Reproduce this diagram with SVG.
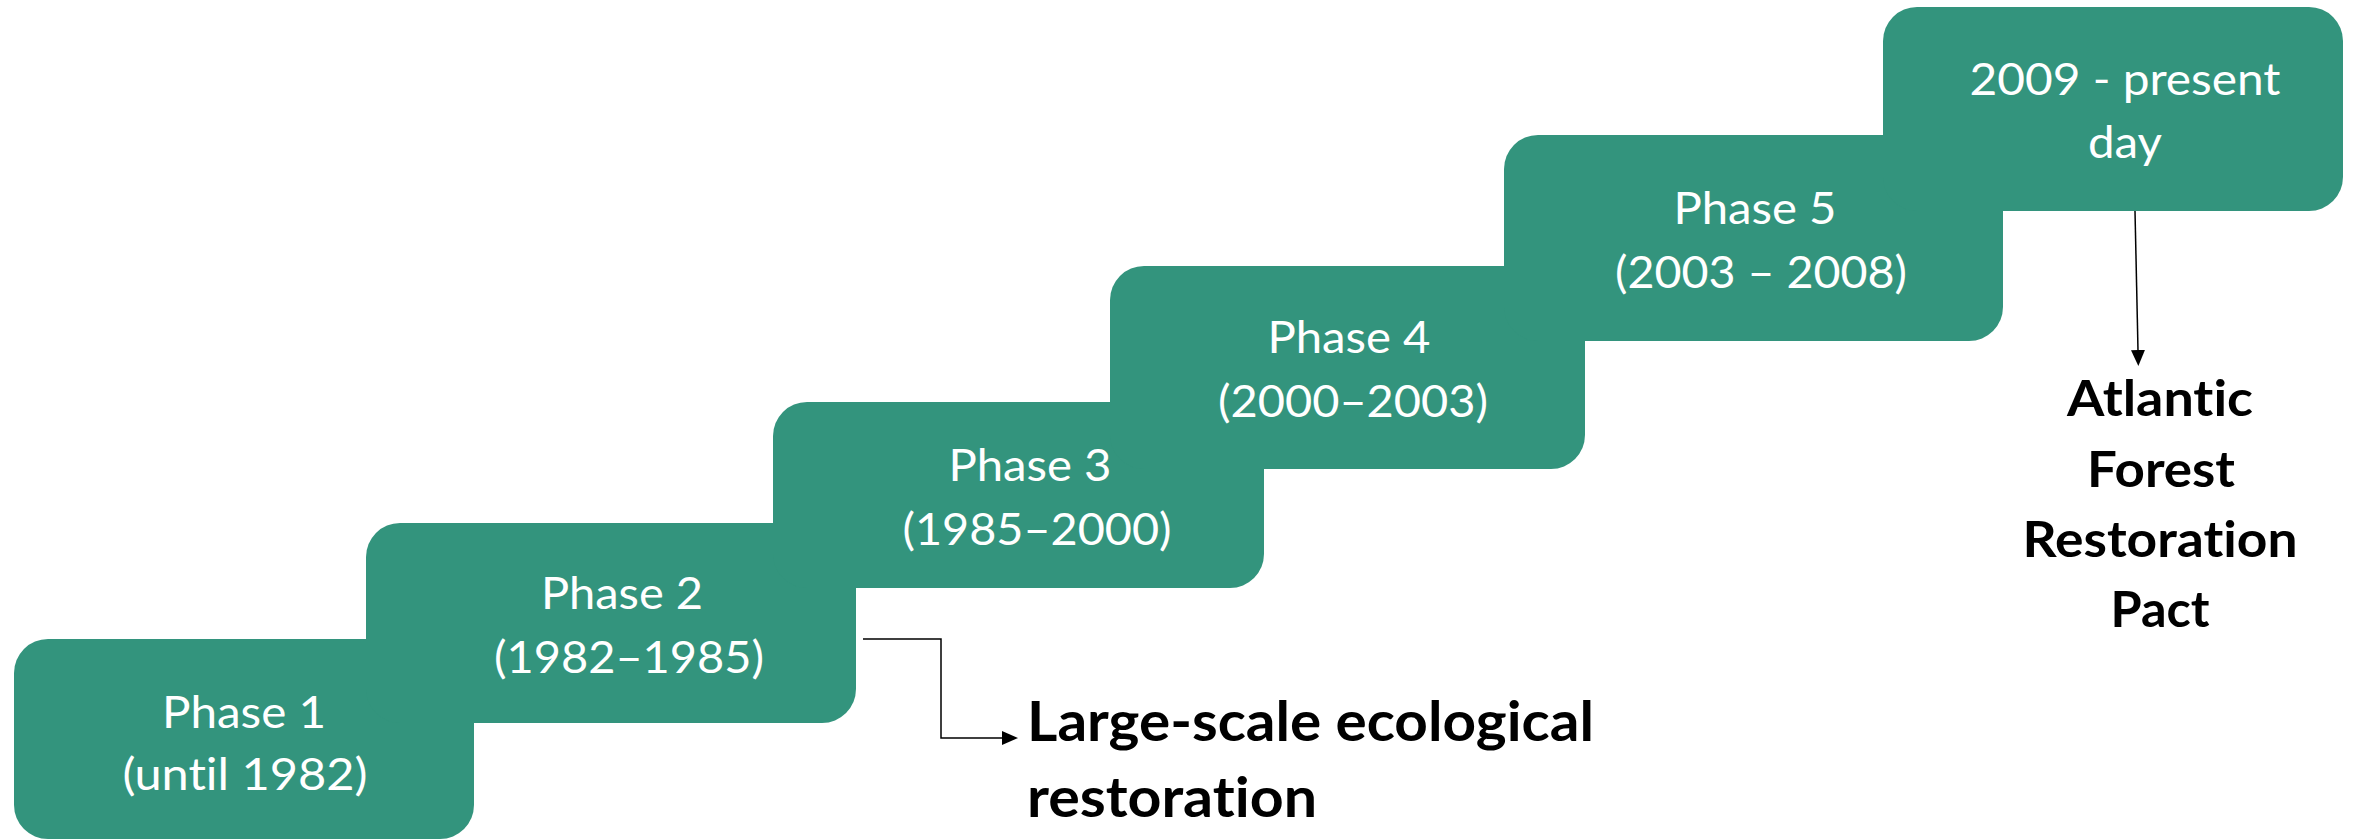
<svg xmlns="http://www.w3.org/2000/svg" width="2353" height="840" viewBox="0 0 2353 840">
  <style>
    .box { fill: #33947d; }
    .lbl { font-family: Lato, "Open Sans", "Liberation Sans", sans-serif; font-size: 45px; fill: #ffffff; text-anchor: middle; font-variant-ligatures: none; }
    .note { font-family: Lato, "Open Sans", "Liberation Sans", sans-serif; font-weight: bold; fill: #000000; font-variant-ligatures: none; }
    .conn { fill: none; stroke: #000000; stroke-width: 1.5; }
  </style>
  <defs>
    <marker id="arrow" viewBox="0 0 16 14" refX="0" refY="7" markerWidth="16" markerHeight="14" markerUnits="userSpaceOnUse" orient="auto">
      <path d="M0,0 L16,7 L0,14 Z" fill="#000000"/>
    </marker>
  </defs>
  <rect width="2353" height="840" fill="#ffffff"/>

  <g id="phase1">
    <rect class="box" x="14" y="639" width="460" height="200" rx="34" ry="34"/>
    <text class="lbl" x="244" y="728" textLength="164" lengthAdjust="spacingAndGlyphs">Phase 1</text>
    <text class="lbl" x="245" y="790" textLength="245" lengthAdjust="spacingAndGlyphs">(until 1982)</text>
  </g>
  <g id="phase2">
    <rect class="box" x="366" y="523" width="490" height="200" rx="34" ry="34"/>
    <text class="lbl" x="622" y="609" textLength="162" lengthAdjust="spacingAndGlyphs">Phase 2</text>
    <text class="lbl" x="629" y="673" textLength="270" lengthAdjust="spacingAndGlyphs">(1982–1985)</text>
  </g>
  <g id="phase3">
    <rect class="box" x="773" y="402" width="491" height="186" rx="34" ry="34"/>
    <text class="lbl" x="1030" y="481" textLength="163" lengthAdjust="spacingAndGlyphs">Phase 3</text>
    <text class="lbl" x="1037" y="545" textLength="269" lengthAdjust="spacingAndGlyphs">(1985–2000)</text>
  </g>
  <g id="phase4">
    <rect class="box" x="1110" y="266" width="475" height="203" rx="34" ry="34"/>
    <text class="lbl" x="1349" y="353" textLength="163" lengthAdjust="spacingAndGlyphs">Phase 4</text>
    <text class="lbl" x="1353" y="417" textLength="270" lengthAdjust="spacingAndGlyphs">(2000–2003)</text>
  </g>
  <g id="phase5">
    <rect class="box" x="1504" y="135" width="499" height="206" rx="34" ry="34"/>
    <text class="lbl" x="1755" y="224" textLength="163" lengthAdjust="spacingAndGlyphs">Phase 5</text>
    <text class="lbl" x="1761" y="288" textLength="292" lengthAdjust="spacingAndGlyphs">(2003 – 2008)</text>
  </g>
  <g id="phase6">
    <rect class="box" x="1883" y="7" width="460" height="204" rx="34" ry="34"/>
    <text class="lbl" x="2125" y="95" textLength="311" lengthAdjust="spacingAndGlyphs">2009 - present</text>
    <text class="lbl" x="2125" y="158" textLength="74" lengthAdjust="spacingAndGlyphs">day</text>
  </g>

  <g id="connectors">
    <path class="conn" d="M863,639 L941,639 L941,738 L1002,738" marker-end="url(#arrow)"/>
    <path class="conn" d="M2135,211 L2138,350" marker-end="url(#arrow)"/>
  </g>

  <g id="large-scale">
    <text class="note" x="1027" y="741" font-size="56" textLength="567" lengthAdjust="spacingAndGlyphs">Large-scale ecological</text>
    <text class="note" x="1027" y="817" font-size="56" textLength="290" lengthAdjust="spacingAndGlyphs">restoration</text>
  </g>
  <g id="pact">
    <text class="note" x="2160" y="416" font-size="50" text-anchor="middle" textLength="186" lengthAdjust="spacingAndGlyphs">Atlantic</text>
    <text class="note" x="2161" y="487" font-size="50" text-anchor="middle" textLength="148" lengthAdjust="spacingAndGlyphs">Forest</text>
    <text class="note" x="2160" y="557" font-size="50" text-anchor="middle" textLength="275" lengthAdjust="spacingAndGlyphs">Restoration</text>
    <text class="note" x="2160" y="627" font-size="50" text-anchor="middle" textLength="99" lengthAdjust="spacingAndGlyphs">Pact</text>
  </g>
</svg>
